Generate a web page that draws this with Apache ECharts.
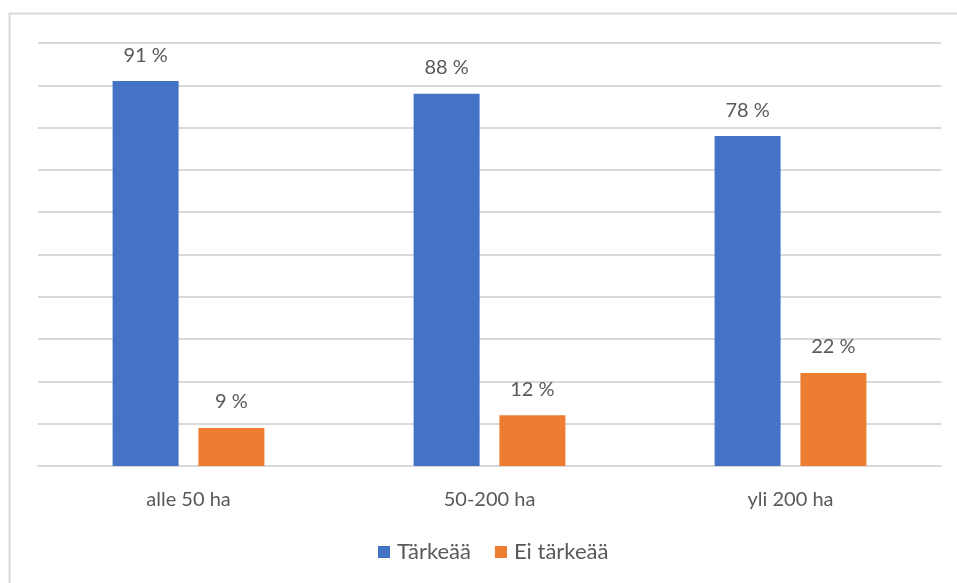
<!DOCTYPE html>
<html>
<head>
<meta charset="utf-8">
<title>Tärkeää / Ei tärkeää</title>
<script src="https://cdn.jsdelivr.net/npm/echarts@6/dist/echarts.min.js"></script>
<style>
	html, body { margin: 0; padding: 0; background: #fff; }
	#js-chart { width: 957px; height: 583px; }
</style>
</head>
<body>
<div id="js-chart"></div>
<script>
var categories = ['alle 50 ha', '50-200 ha', 'yli 200 ha'];
var seriesNames = ['Tärkeää', 'Ei tärkeää'];
var tarkeaa = [91, 88, 78];
var eiTarkeaa = [9, 12, 22];

var fontFamily = 'Lato, "Open Sans", "Liberation Sans", sans-serif';

function initChart(){
	var chart = echarts.init(document.getElementById('js-chart'));
	var option = {
		textStyle: { fontFamily: fontFamily },
		graphic: [
			{
				type: 'rect',
				shape: { x: 9.5, y: 13.5, width: 1000, height: 700 },
				style: { fill: 'none', stroke: '#d9d9d9', lineWidth: 2 },
				silent: true
			}
		],
		grid: {
			left: 38,
			right: 16,
			top: 43,
			bottom: 117,
			containLabel: false
		},
		legend: {
			top: 536,
			left: 373,
			itemWidth: 12,
			itemHeight: 12,
			itemGap: 24,
			icon: 'rect',
			textStyle: { color: '#595959', fontSize: 22, fontFamily: fontFamily, padding: [0, 0, 0, 2] },
			data: seriesNames
		},
		xAxis: {
			type: 'category',
			data: categories,
			axisLine: { show: true, lineStyle: { color: '#d9d9d9', width: 2 } },
			axisTick: { show: false },
			axisLabel: { color: '#595959', fontSize: 20, margin: 24, fontFamily: fontFamily }
		},
		yAxis: {
			type: 'value',
			min: 0,
			max: 100,
			interval: 10,
			axisLabel: { show: false },
			axisLine: { show: false },
			axisTick: { show: false },
			splitLine: { lineStyle: { color: '#d9d9d9', width: 2 } }
		},
		series: [
			{
				name: seriesNames[0],
				type: 'bar',
				data: tarkeaa,
				barWidth: 66,
				barGap: '30%',
				itemStyle: { color: '#4472c4' },
				label: {
					show: true,
					position: 'top',
					distance: 16,
					formatter: '{c} %',
					color: '#595959',
					fontSize: 20,
					fontFamily: fontFamily
				}
			},
			{
				name: seriesNames[1],
				type: 'bar',
				data: eiTarkeaa,
				barWidth: 66,
				barGap: '30%',
				itemStyle: { color: '#ed7d31' },
				label: {
					show: true,
					position: 'top',
					distance: 16,
					formatter: '{c} %',
					color: '#595959',
					fontSize: 20,
					fontFamily: fontFamily
				}
			}
		]
	};
	chart.setOption(option);
}

initChart();
</script>
</body>
</html>
